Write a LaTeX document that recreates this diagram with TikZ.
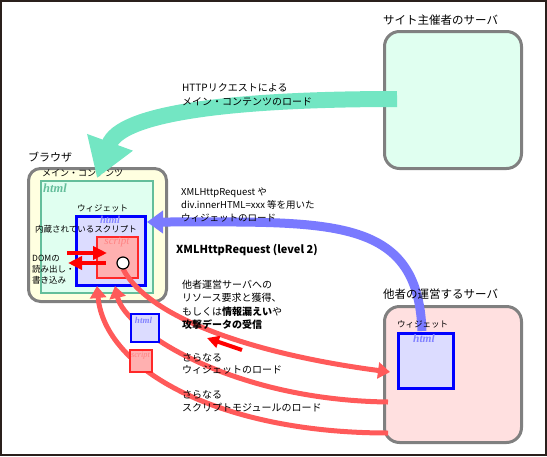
\documentclass[tikz,border=0pt]{standalone}
\usepackage{fontspec}
\setmainfont{Noto Sans CJK JP}
\newfontfamily\rmserif{Liberation Serif}
\usetikzlibrary{arrows.meta,calc}
\definecolor{framec}{RGB}{42,32,28}
\definecolor{grayb}{RGB}{128,128,128}
\definecolor{mint}{RGB}{224,255,240}
\definecolor{cream}{RGB}{255,255,224}
\definecolor{htmlgreen}{RGB}{100,190,155}
\definecolor{lav}{RGB}{220,220,255}
\definecolor{pinkbg}{RGB}{255,224,224}
\definecolor{scriptfill}{RGB}{255,176,176}
\definecolor{scriptline}{RGB}{255,40,40}
\definecolor{scripttext}{RGB}{255,130,130}
\definecolor{htmlblue}{RGB}{130,130,255}
\definecolor{arrowgreen}{RGB}{115,230,195}
\definecolor{arrowblue}{RGB}{122,122,255}
\definecolor{curvered}{RGB}{255,90,90}
\newcommand{\fsz}[2]{\fontsize{#1}{#2}\selectfont}
\begin{document}
\begin{tikzpicture}[x=1pt,y=-1pt,
  server/.style={draw=grayb, line width=3pt, rounded corners=15pt, anchor=north west, inner sep=0pt},
  widgetbox/.style={draw=blue, line width=3pt, fill=lav, anchor=north west, inner sep=0pt},
  scriptbox/.style={draw=scriptline, line width=1.5pt, fill=scriptfill, anchor=north west, inner sep=0pt},
  txt/.style={inner sep=0pt, anchor=west, align=left},
  htmltxt/.style={inner sep=0pt, text=htmlblue},
  redcurve/.style={draw=curvered, line width=5pt, -{Triangle[length=12pt,width=16pt]}},
  redarrow/.style={draw=red, line width=4pt, -{Triangle[length=14pt,width=13pt]}}
]
\path[use as bounding box] (0,0) rectangle (547,456);
\draw[framec, line width=2pt] (1,1) rectangle (546,454.5);

% boxes
\node[server, fill=mint, minimum width=137pt, minimum height=137pt] (site) at (383,30) {};
\node[server, fill=cream, minimum width=138pt, minimum height=133pt, rounded corners=12pt] (browser) at (27,167) {};
\node[draw=htmlgreen, line width=2pt, fill=mint, anchor=north west, inner sep=0pt, minimum width=112pt, minimum height=112pt] (main) at (40,180) {};
\node[widgetbox, minimum width=69pt, minimum height=69pt] (wid) at (75,215) {};
\node[scriptbox, minimum width=41pt, minimum height=41pt] (scr) at (96,236) {};
\node[server, fill=pinkbg, minimum width=137pt, minimum height=136pt] (other) at (383,305) {};
\node[widgetbox, minimum width=55pt, minimum height=55pt] (wid2) at (397,332) {};

\node[txt, font=\fsz{9}{11}] (mainL) at (42,173) {メイン・コンテンツ};

% connector coordinates
\coordinate (gs) at (397,99);
\coordinate (gtip) at (97,178);
\coordinate (bs) at (422,331);
\coordinate (btip) at (147,222);

% green arrow
\draw[arrowgreen, line width=16pt, -{Triangle[length=38pt,width=46pt]}] (gs) .. controls (220,99) and (120,115) .. (gtip);
% blue arrow
\draw[arrowblue, line width=9pt, -{Triangle[length=16pt,width=22pt]}] (bs) .. controls (418,215) and (330,222) .. (btip);

% red curves
\coordinate (ballS) at (123,269);
\coordinate (atip) at (390,372);
\coordinate (bstart) at (388,402);
\coordinate (btip2) at (115,286);
\coordinate (cstart) at (388,433);
\coordinate (ctip) at (97,286);
\draw[redcurve] (ballS) .. controls (150,320) and (260,355) .. (atip);
\draw[redcurve] (bstart) .. controls (230,400) and (125,330) .. (btip2);
\draw[redcurve] (cstart) .. controls (220,433) and (105,370) .. (ctip);
\node[circle, draw=black, fill=white, line width=1.2pt, minimum size=12pt, inner sep=0pt] (ball) at (123,263) {};

% texts
\node[txt, font=\fsz{11.5}{14}] (siteL) at (383,20) {サイト主催者のサーバ};
\node[txt, font=\fsz{10}{14}] (httpL) at (182,95) {HTTPリクエストによる\\メイン・コンテンツのロード};
\node[txt, font=\fsz{11}{13}] (brL) at (28,157) {ブラウザ};
\node[txt, font={\rmserif\bfseries\itshape\fsz{12.5}{14}}, text=htmlgreen] (mainH) at (43,188) {html};
\node[txt, font=\fsz{8.5}{10}] (widL) at (77,208) {ウィジェット};
\node[htmltxt, font={\rmserif\bfseries\itshape\fsz{10.5}{12}}] (widH) at (110,220) {html};
\node[txt, font=\fsz{8.5}{10}] (builtin) at (35,229) {内蔵されているスクリプト};
\node[inner sep=0pt, font={\rmserif\itshape\fsz{11}{12}}, text=scripttext] (scrL) at (117,242) {script};
\node[txt, font=\fsz{8.5}{11}] (domL) at (32,270) {DOMの\\読み出し・\\書き込み};
\node[txt, font=\fsz{9.5}{13}] (xhrL) at (181,205) {XMLHttpRequest や\\div.innerHTML=xxx 等を用いた\\ウィジェットのロード};
\node[txt, font=\bfseries\fsz{11}{13}] (lvl2) at (176,250) {XMLHttpRequest (level 2)};
\node[txt, font=\fsz{10}{13.5}] (reqL) at (182,305) {他者運営サーバへの\\リソース要求と獲得、\\もしくは\textbf{情報漏えい}や\\\textbf{攻撃データの受信}};
\node[txt, font=\fsz{10}{12.5}] (moreW) at (182,364) {さらなる\\ウィジェットのロード};
\node[txt, font=\fsz{10}{12.5}] (moreS) at (182,401) {さらなる\\スクリプトモジュールのロード};
\node[txt, font=\fsz{11.5}{14}] (othL) at (383,294) {他者の運営するサーバ};
\node[txt, font=\fsz{8.5}{10}] (wid2L) at (397,324) {ウィジェット};
\node[htmltxt, font={\rmserif\bfseries\itshape\fsz{11.5}{12}}] (wid2H) at (424,339) {html};

% small squares
\node[draw=blue, line width=2pt, fill=lav, anchor=north west, inner sep=0pt, minimum width=28pt, minimum height=28pt] (shtml) at (130,313) {};
\node[htmltxt, font={\rmserif\bfseries\itshape\fsz{9}{10}}] (shtmlL) at (143.5,320) {html};
\node[scriptbox, minimum width=22pt, minimum height=22pt] (sscr) at (129,349) {};
\node[inner sep=0pt, font={\rmserif\itshape\fsz{8.3}{9}}, text=scripttext] (sscrL) at (140.5,355.5) {script};

% DOM arrows
\coordinate (d1s) at (67,253);
\coordinate (d1e) at (107,253);
\coordinate (d2s) at (106,263);
\coordinate (d2e) at (68,263);
\draw[redarrow] (d1s) -- (d1e);
\draw[redarrow] (d2s) -- (d2e);
% arrow near text
\coordinate (ts) at (242,350);
\coordinate (te) at (207,338);
\draw[redarrow, -{Triangle[length=12pt,width=12pt]}] (ts) -- (te);
\end{tikzpicture}
\end{document}
